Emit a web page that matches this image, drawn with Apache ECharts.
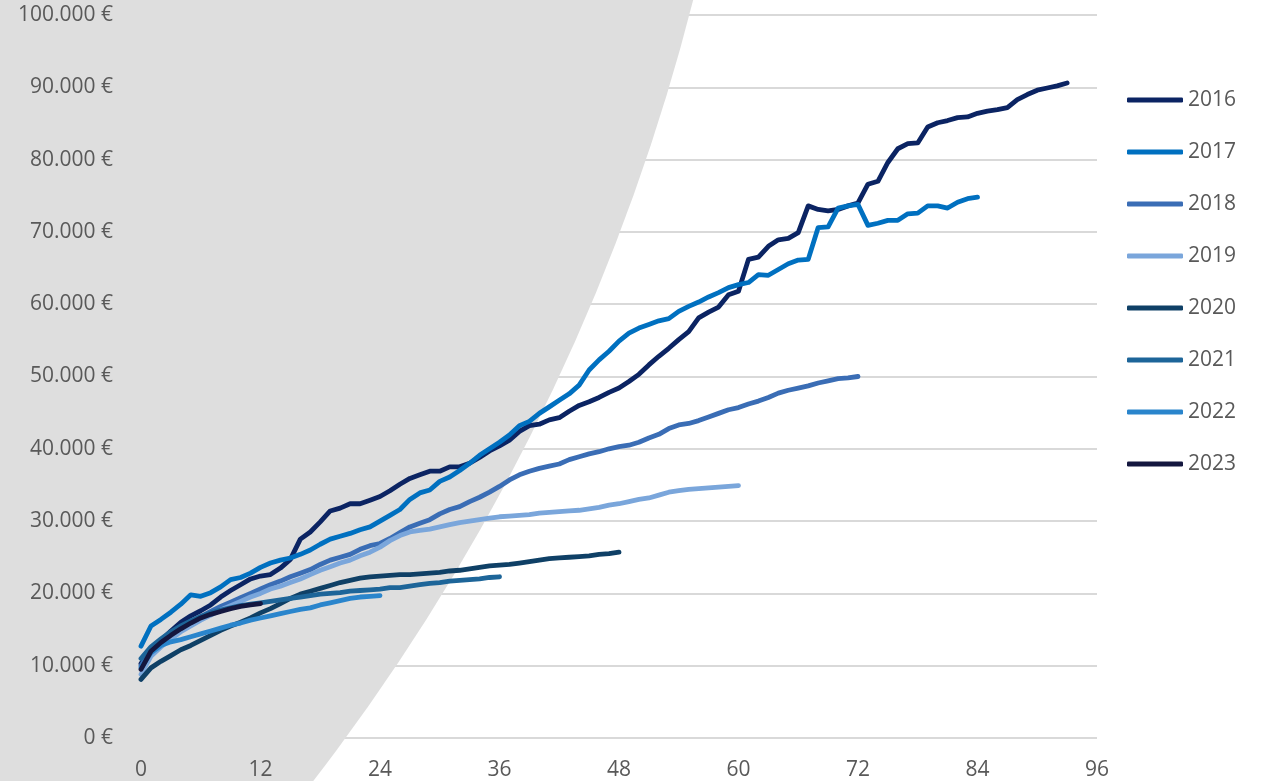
<!DOCTYPE html>
<html>
<head>
<meta charset="utf-8">
<script src="https://cdn.jsdelivr.net/npm/echarts@6/dist/echarts.min.js"></script>
<style>
  html, body { margin: 0; padding: 0; background: #ffffff; }
  #chart { width: 1263px; height: 781px; }
</style>
</head>
<body>
<div id="chart"></div>
<script>
// values in thousand euro, one entry per month starting at month 0
const years = ['2016', '2017', '2018', '2019', '2020', '2021', '2022', '2023'];
const colors = ['#0b2463', '#0070c0', '#3a6db5', '#7aa6db', '#0f4066', '#1d6599', '#2a85cc', '#14173f'];

const v2016 = [10.3, 12.3, 13.5, 14.8, 16.0, 16.9, 17.6, 18.4, 19.5, 20.4, 21.2, 22.0, 22.4, 22.6, 23.5, 24.7,
  27.5, 28.5, 29.9, 31.4, 31.8, 32.4, 32.4, 32.9, 33.4, 34.2, 35.1, 35.9, 36.4, 36.9, 36.9, 37.5, 37.5, 38.0,
  38.8, 39.7, 40.4, 41.2, 42.4, 43.2, 43.4, 44.0, 44.3, 45.2, 46.0, 46.5, 47.1, 47.8, 48.4, 49.3, 50.3, 51.6,
  52.8, 53.9, 55.1, 56.2, 58.1, 58.9, 59.6, 61.3, 61.8, 66.2, 66.5, 68.0, 68.9, 69.1, 69.9, 73.6, 73.1, 72.9,
  73.1, 73.6, 74.0, 76.6, 77.0, 79.6, 81.5, 82.2, 82.3, 84.5, 85.1, 85.4, 85.8, 85.9, 86.4, 86.7, 86.9, 87.2,
  88.3, 89.0, 89.6, 89.9, 90.2, 90.6];
const v2017 = [12.7, 15.5, 16.4, 17.4, 18.5, 19.8, 19.6, 20.1, 20.9, 21.9, 22.2, 22.8, 23.6, 24.2, 24.6, 24.9,
  25.4, 26.0, 26.8, 27.5, 27.9, 28.3, 28.8, 29.2, 30.0, 30.8, 31.6, 33.0, 33.9, 34.3, 35.5, 36.1, 37.0, 38.0,
  39.1, 40.0, 40.9, 41.9, 43.2, 43.8, 44.9, 45.8, 46.7, 47.6, 48.8, 50.9, 52.3, 53.5, 54.9, 56.0, 56.7, 57.2,
  57.7, 58.0, 59.0, 59.7, 60.3, 61.0, 61.6, 62.3, 62.7, 63.0, 64.1, 64.0, 64.8, 65.6, 66.1, 66.2, 70.6, 70.7,
  73.3, 73.6, 73.8, 70.9, 71.2, 71.6, 71.6, 72.5, 72.6, 73.6, 73.6, 73.3, 74.1, 74.6, 74.8];
const v2018 = [10.0, 12.2, 13.3, 14.3, 15.2, 16.0, 16.8, 17.5, 18.2, 18.8, 19.4, 20.0, 20.6, 21.2, 21.7, 22.3,
  22.8, 23.3, 24.0, 24.6, 25.0, 25.4, 26.1, 26.6, 26.9, 27.6, 28.4, 29.2, 29.7, 30.2, 31.0, 31.6, 32.0, 32.7,
  33.3, 34.0, 34.8, 35.7, 36.4, 36.9, 37.3, 37.6, 37.9, 38.5, 38.9, 39.3, 39.6, 40.0, 40.3, 40.5, 40.9, 41.5,
  42.0, 42.8, 43.3, 43.5, 43.9, 44.4, 44.9, 45.4, 45.7, 46.2, 46.6, 47.1, 47.7, 48.1, 48.4, 48.7, 49.1, 49.4,
  49.7, 49.8, 50.0];
const v2019 = [8.8, 11.3, 12.6, 13.7, 14.7, 15.5, 16.3, 17.0, 17.7, 18.3, 18.9, 19.5, 20.0, 20.6, 21.0, 21.5,
  22.0, 22.6, 23.2, 23.7, 24.2, 24.6, 25.2, 25.7, 26.4, 27.3, 28.0, 28.5, 28.7, 28.9, 29.2, 29.5, 29.8, 30.0,
  30.2, 30.4, 30.6, 30.7, 30.8, 30.9, 31.1, 31.2, 31.3, 31.4, 31.5, 31.7, 31.9, 32.2, 32.4, 32.7, 33.0, 33.2,
  33.6, 34.0, 34.2, 34.4, 34.5, 34.6, 34.7, 34.8, 34.9];
const v2020 = [8.1, 9.7, 10.6, 11.4, 12.2, 12.8, 13.5, 14.2, 14.9, 15.5, 16.0, 16.6, 17.3, 17.9, 18.6, 19.3,
  19.9, 20.3, 20.7, 21.1, 21.5, 21.8, 22.1, 22.3, 22.4, 22.5, 22.6, 22.6, 22.7, 22.8, 22.9, 23.1, 23.2, 23.4,
  23.6, 23.8, 23.9, 24.0, 24.2, 24.4, 24.6, 24.8, 24.9, 25.0, 25.1, 25.2, 25.4, 25.5, 25.7];
const v2021 = [11.0, 12.6, 13.7, 14.7, 15.5, 16.2, 16.8, 17.3, 17.7, 18.0, 18.3, 18.5, 18.7, 18.9, 19.1, 19.3,
  19.5, 19.7, 19.9, 20.0, 20.1, 20.3, 20.4, 20.5, 20.6, 20.8, 20.8, 21.0, 21.2, 21.4, 21.5, 21.7, 21.8, 21.9,
  22.0, 22.2, 22.3];
const v2022 = [9.7, 11.8, 12.8, 13.3, 13.6, 14.0, 14.4, 14.8, 15.2, 15.6, 15.9, 16.3, 16.6, 16.9, 17.2, 17.5,
  17.8, 18.0, 18.4, 18.7, 19.0, 19.3, 19.5, 19.6, 19.7];
const v2023 = [9.5, 12.0, 13.2, 14.2, 15.1, 15.9, 16.6, 17.1, 17.5, 17.9, 18.2, 18.4, 18.6];

const seriesValues = [v2016, v2017, v2018, v2019, v2020, v2021, v2022, v2023];

const fontFamily = '"Open Sans", "Noto Sans", sans-serif';
const textColor = '#595959';

const euro = (value) => {
  const s = String(Math.round(value)).replace(/\B(?=(\d{3})+(?!\d))/g, '.');
  return s + ' €';
};

const chart = echarts.init(document.getElementById('chart'), null, { renderer: 'canvas' });

const option = {
  animation: false,
  backgroundColor: '#ffffff',
  textStyle: { fontFamily },
  graphic: [
    {
      // grey decorative disc behind the lines
      type: 'circle',
      z: 1,
      silent: true,
      shape: { cx: -1383, cy: -527, r: 2142 },
      style: { fill: '#dedede' },
    },
  ],
  grid: { left: 141, right: 166, top: 15, bottom: 42.5, containLabel: false },
  legend: {
    orient: 'vertical',
    left: 1127,
    top: 88,
    padding: 0,
    itemWidth: 56,
    itemHeight: 5,
    itemGap: 28,
    icon: 'roundRect',
    textStyle: { fontFamily, fontSize: 21, color: textColor, lineHeight: 24 },
    data: years,
  },
  xAxis: {
    type: 'value',
    min: 0,
    max: 96,
    interval: 12,
    z: 3,
    axisLine: { show: false },
    axisTick: { show: false },
    splitLine: { show: false },
    axisLabel: { fontFamily, fontSize: 21, color: textColor, margin: 22 },
  },
  yAxis: [
    {
      type: 'value',
      min: 0,
      max: 100000,
      interval: 10000,
      z: 0,
      axisLine: { show: false },
      axisTick: { show: false },
      axisLabel: { show: false },
      splitLine: { show: true, lineStyle: { color: '#d9d9d9', width: 2 } },
    },
    {
      type: 'value',
      position: 'left',
      min: 0,
      max: 100000,
      interval: 10000,
      z: 3,
      axisLine: { show: false },
      axisTick: { show: false },
      splitLine: { show: false },
      axisLabel: { fontFamily, fontSize: 21, color: textColor, margin: 28, formatter: euro },
    },
  ],
  series: years.map((name, i) => ({
    name,
    type: 'line',
    yAxisIndex: 0,
    z: 2,
    symbol: 'none',
    showSymbol: false,
    smooth: false,
    emphasis: { disabled: true },
    itemStyle: { color: colors[i] },
    lineStyle: { color: colors[i], width: 4.8, cap: 'round', join: 'round' },
    data: seriesValues[i].map((v, m) => [m, v * 1000]),
  })),
};

chart.setOption(option);
</script>
</body>
</html>
